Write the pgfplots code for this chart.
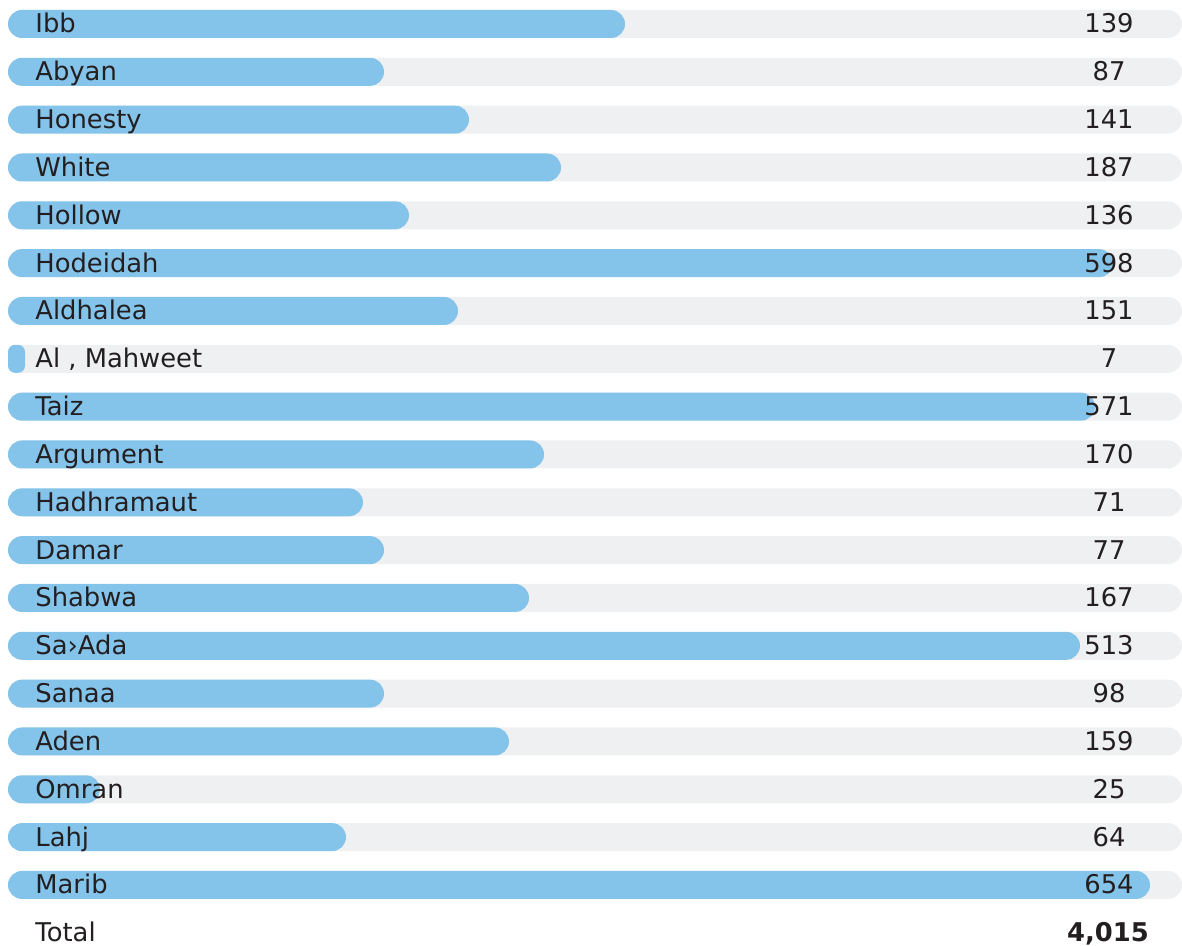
\documentclass[border=0pt]{standalone}
\usepackage{pgfplots}
\usepackage{pgfplotstable}
\pgfplotsset{compat=1.18}
\usepackage{fontspec}
\setmainfont{DejaVu Sans}
\definecolor{barblue}{RGB}{133,196,234}
\definecolor{track}{RGB}{239,240,242}
\definecolor{txt}{RGB}{35,31,32}
% idx = row, len = drawn bar length (px-like units), val = printed value
\pgfplotstableread{
idx len val
0 617 139
1 376 87
2 461 141
3 553 187
4 401 136
5 1105 598
6 450 151
8 1087 571
9 536 170
10 355 71
11 376 77
12 521 167
13 1072 513
14 376 98
15 501 159
16 92 25
17 338 64
18 1142 654
}\data
\pgfplotstableread{
idx len val
7 17 7
}\small
\pgfplotstableread{
idx len
0 1174
1 1174
2 1174
3 1174
4 1174
5 1174
6 1174
7 1174
8 1174
9 1174
10 1174
11 1174
12 1174
13 1174
14 1174
15 1174
16 1174
17 1174
18 1174
}\tracks
\begin{document}
\begin{tikzpicture}
\useasboundingbox (0,0) rectangle (591pt,473pt);
\begin{axis}[
  at={(0,0)}, anchor=south west,
  scale only axis, width=591pt, height=473pt,
  xmin=-8, xmax=1174, ymin=0, ymax=946,
  y dir=reverse, hide axis, clip=false,
]
\addplot[xbar, bar shift=0pt, bar width=28, fill=track, draw=none, rounded corners=7pt]
  table[x=len, y expr=24+\thisrow{idx}*47.83]{\tracks};
\addplot[xbar, bar shift=0pt, bar width=28, fill=barblue, draw=none, rounded corners=7pt]
  table[x=len, y expr=24+\thisrow{idx}*47.83]{\data};
\addplot[xbar, bar shift=0pt, bar width=28, fill=barblue, draw=none, rounded corners=3.5pt]
  table[x=len, y expr=24+\thisrow{idx}*47.83]{\small};
\pgfplotsinvokeforeach{
 0/Ibb/139, 1/Abyan/87, 2/Honesty/141, 3/White/187, 4/Hollow/136,
 5/Hodeidah/598, 6/Aldhalea/151, 7/{Al , Mahweet}/7, 8/Taiz/571,
 9/Argument/170, 10/Hadhramaut/71, 11/Damar/77, 12/Shabwa/167,
 13/Sa›Ada/513, 14/Sanaa/98, 15/Aden/159, 16/Omran/25, 17/Lahj/64,
 18/Marib/654}{}
\foreach \i/\n/\v in {
 0/Ibb/139, 1/Abyan/87, 2/Honesty/141, 3/White/187, 4/Hollow/136,
 5/Hodeidah/598, 6/Aldhalea/151, 7/{Al , Mahweet}/7, 8/Taiz/571,
 9/Argument/170, 10/Hadhramaut/71, 11/Damar/77, 12/Shabwa/167,
 13/Sa›Ada/513, 14/Sanaa/98, 15/Aden/159, 16/Omran/25, 17/Lahj/64,
 18/Marib/654}{
  \edef\temp{\noexpand\node[anchor=base west, inner sep=0pt, text=txt, font=\noexpand\fontsize{12.9pt}{14pt}\noexpand\selectfont]
    at (axis cs:27,{24+\i*47.83+9}) {\n};
  \noexpand\node[anchor=base, inner sep=0pt, text=txt, font=\noexpand\fontsize{12.9pt}{14pt}\noexpand\selectfont]
    at (axis cs:1101,{24+\i*47.83+9}) {\v};}
  \temp
}
\node[anchor=base west, inner sep=0pt, text=txt, font=\fontsize{12.9pt}{14pt}\selectfont]
  at (axis cs:27,{24+19*47.83+9}) {Total};
\node[anchor=base, inner sep=0pt, text=txt, font=\fontsize{12.9pt}{14pt}\selectfont\bfseries]
  at (axis cs:1100,{24+19*47.83+9}) {4,015};
\end{axis}
\end{tikzpicture}
\end{document}
